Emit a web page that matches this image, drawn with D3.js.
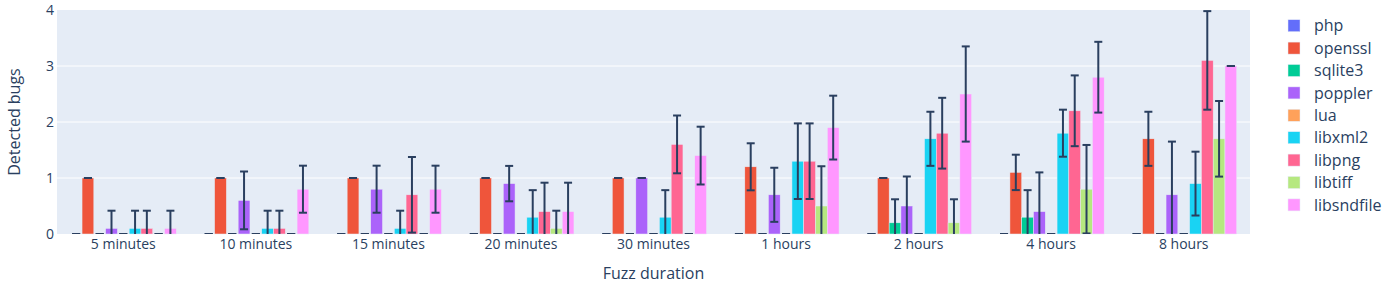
<!DOCTYPE html>
<html>
<head>
<meta charset="utf-8">
<script src="https://cdn.jsdelivr.net/npm/d3@7"></script>
<style>
  body { margin: 0; background: #fff; }
  svg { display: block; font-family: "Open Sans", sans-serif; }
</style>
</head>
<body>
<div id="chart"></div>
<script>
// --- Data
const categories = ["5 minutes", "10 minutes", "15 minutes", "20 minutes", "30 minutes", "1 hours", "2 hours", "4 hours", "8 hours"];
const seriesNames = ["php", "openssl", "sqlite3", "poppler", "lua", "libxml2", "libpng", "libtiff", "libsndfile"];

const phpMean = [0, 0, 0, 0, 0, 0, 0, 0, 0];
const phpStd = [0, 0, 0, 0, 0, 0, 0, 0, 0];
const opensslMean = [1, 1, 1, 1, 1, 1.2, 1, 1.1, 1.7];
const opensslStd = [0, 0, 0, 0, 0, 0.42, 0, 0.316, 0.483];
const sqlite3Mean = [0, 0, 0, 0, 0, 0, 0.2, 0.3, 0];
const sqlite3Std = [0, 0, 0, 0, 0, 0, 0.42, 0.483, 0];
const popplerMean = [0.1, 0.6, 0.8, 0.9, 1.0, 0.7, 0.5, 0.4, 0.7];
const popplerStd = [0.316, 0.516, 0.42, 0.316, 0, 0.483, 0.527, 0.7, 0.95];
const luaMean = [0, 0, 0, 0, 0, 0, 0, 0, 0];
const luaStd = [0, 0, 0, 0, 0, 0, 0, 0, 0];
const libxml2Mean = [0.1, 0.1, 0.1, 0.3, 0.3, 1.3, 1.7, 1.8, 0.9];
const libxml2Std = [0.316, 0.316, 0.316, 0.483, 0.483, 0.675, 0.483, 0.42, 0.57];
const libpngMean = [0.1, 0.1, 0.7, 0.4, 1.6, 1.3, 1.8, 2.2, 3.1];
const libpngStd = [0.316, 0.316, 0.675, 0.516, 0.516, 0.675, 0.632, 0.632, 0.88];
const libtiffMean = [0, 0, 0, 0.1, 0, 0.5, 0.2, 0.8, 1.7];
const libtiffStd = [0, 0, 0, 0.316, 0, 0.71, 0.42, 0.79, 0.675];
const libsndfileMean = [0.1, 0.8, 0.8, 0.4, 1.4, 1.9, 2.5, 2.8, 3.0];
const libsndfileStd = [0.316, 0.42, 0.42, 0.516, 0.516, 0.57, 0.85, 0.632, 0];

const yTicks = [0, 1, 2, 3, 4];
const xTitle = "Fuzz duration";
const yTitle = "Detected bugs";

// plotly default palette
const colors = ["#636efa", "#EF553B", "#00cc96", "#ab63fa", "#FFA15A", "#19d3f3", "#FF6692", "#B6E880", "#FF97FF"];

const means = [phpMean, opensslMean, sqlite3Mean, popplerMean, luaMean, libxml2Mean, libpngMean, libtiffMean, libsndfileMean];
const stds = [phpStd, opensslStd, sqlite3Std, popplerStd, luaStd, libxml2Std, libpngStd, libtiffStd, libsndfileStd];

// --- Layout
const width = 1387, height = 284;
const margin = { top: 10, right: 137, bottom: 50, left: 57 };
const textColor = "#2a3f5f";

const svg = d3.select("#chart").append("svg")
  .attr("width", width)
  .attr("height", height);

const x0 = d3.scaleBand()
  .domain(categories)
  .range([margin.left, width - margin.right])
  .paddingInner(0.2)
  .paddingOuter(0.1);

const x1 = d3.scaleBand()
  .domain(seriesNames)
  .range([0, x0.bandwidth()]);

const y = d3.scaleLinear()
  .domain([0, 4])
  .range([height - margin.bottom, margin.top]);

// plot background
svg.append("rect")
  .attr("x", margin.left)
  .attr("y", margin.top)
  .attr("width", width - margin.right - margin.left)
  .attr("height", height - margin.bottom - margin.top)
  .attr("fill", "#E5ECF6");

svg.append("clipPath")
  .attr("id", "plotClip")
  .append("rect")
  .attr("x", margin.left)
  .attr("y", margin.top - 1)
  .attr("width", width - margin.right - margin.left)
  .attr("height", height - margin.bottom - margin.top + 1);

// grid
svg.append("g")
  .selectAll("line")
  .data(yTicks.slice(1, -1))
  .join("line")
  .attr("x1", margin.left)
  .attr("x2", width - margin.right)
  .attr("y1", d => y(d))
  .attr("y2", d => y(d))
  .attr("stroke", "#fff")
  .attr("stroke-width", 1);

// y axis
svg.append("g")
  .attr("transform", `translate(${margin.left}, 0)`)
  .call(d3.axisLeft(y).tickValues(yTicks).tickSize(0).tickPadding(3).tickFormat(d3.format("d")))
  .call(g => g.select(".domain").remove())
  .call(g => g.selectAll("text")
    .attr("fill", textColor)
    .style("font-size", "14px")
    .style("font-family", "'Open Sans', sans-serif"));

// x axis
svg.append("g")
  .attr("transform", `translate(0, ${height - margin.bottom})`)
  .call(d3.axisBottom(x0).tickSize(0).tickPadding(5))
  .call(g => g.select(".domain").remove())
  .call(g => g.selectAll("text")
    .attr("fill", textColor)
    .style("font-size", "14px")
    .style("font-family", "'Open Sans', sans-serif"));

// titles
svg.append("text")
  .attr("x", (margin.left + width - margin.right) / 2)
  .attr("y", 279)
  .attr("text-anchor", "middle")
  .attr("fill", textColor)
  .style("font-size", "16px")
  .text(xTitle);

svg.append("text")
  .attr("transform", `translate(20, ${(margin.top + height - margin.bottom) / 2}) rotate(-90)`)
  .attr("text-anchor", "middle")
  .attr("fill", textColor)
  .style("font-size", "16px")
  .text(yTitle);

// bars
const rows = [];
seriesNames.forEach((name, s) => {
  categories.forEach((cat, c) => {
    rows.push({ name: name, cat: cat, s: s, mean: means[s][c], std: stds[s][c] });
  });
});

svg.append("g")
  .selectAll("rect")
  .data(rows.filter(d => d.mean > 0))
  .join("rect")
  .attr("x", d => x0(d.cat) + x1(d.name))
  .attr("y", d => y(d.mean))
  .attr("width", x1.bandwidth())
  .attr("height", d => y(0) - y(d.mean))
  .attr("fill", d => colors[d.s])
  .attr("stroke", "#E5ECF6")
  .attr("stroke-width", 0.5);

// error bars
const err = svg.append("g")
  .attr("clip-path", "url(#plotClip)")
  .attr("stroke", textColor)
  .attr("stroke-width", 2)
  .selectAll("g")
  .data(rows)
  .join("g")
  .attr("transform", d => `translate(${x0(d.cat) + x1(d.name) + x1.bandwidth() / 2}, 0)`);

err.append("line")
  .attr("y1", d => y(d.mean + d.std))
  .attr("y2", d => y(d.mean - d.std));
err.append("line")
  .attr("x1", -4).attr("x2", 4)
  .attr("y1", d => y(d.mean + d.std))
  .attr("y2", d => y(d.mean + d.std));
err.append("line")
  .attr("x1", -4).attr("x2", 4)
  .attr("y1", d => y(d.mean - d.std))
  .attr("y2", d => y(d.mean - d.std));

// legend
const legend = svg.append("g")
  .selectAll("g")
  .data(seriesNames)
  .join("g")
  .attr("transform", (d, i) => `translate(1294, ${25.7 + i * 22.4})`);

legend.append("rect")
  .attr("x", -6).attr("y", -6)
  .attr("width", 12).attr("height", 12)
  .attr("fill", (d, i) => colors[i])
  .attr("stroke", "#E5ECF6")
  .attr("stroke-width", 0.5);

legend.append("text")
  .attr("x", 20)
  .attr("dy", "0.35em")
  .attr("fill", textColor)
  .style("font-size", "16px")
  .text(d => d);
</script>
</body>
</html>
